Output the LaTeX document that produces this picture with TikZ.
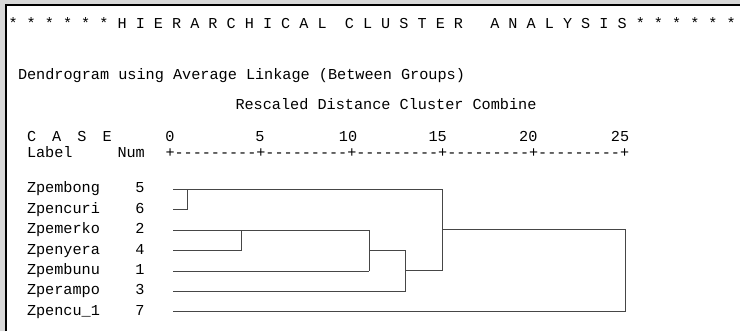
\documentclass[tikz,border=0pt]{standalone}
\usepackage{fontspec}
\newfontfamily\mono{Liberation Mono}
\definecolor{pagegray}{RGB}{216,216,216}
\definecolor{linegray}{RGB}{70,70,70}
\tikzset{
  txt/.style={inner sep=0pt, outer sep=0pt, font=\mono\fontsize{15.2bp}{18bp}\selectfont, text=black},
  wtxt/.style={txt, anchor=base west},
  ctxt/.style={txt, anchor=base},
  ln/.style={draw=linegray, line width=1bp},
}
\begin{document}
\begin{tikzpicture}[x=1bp, y=-1bp]
\useasboundingbox (0,0) rectangle (740,331);
% page frame
\fill[pagegray] (0,0) rectangle (740,331);
\fill[white] (6,5) rectangle (740,331);
\draw[black, line width=2bp] (6,331) -- (6,5) -- (740,5);

% headings
\node[wtxt, font=\mono\fontsize{15.15bp}{18bp}\selectfont] (title) at (8.5,28.3)
  {*~*~*~*~*~*~H~I~E~R~A~R~C~H~I~C~A~L~~C~L~U~S~T~E~R~~~A~N~A~L~Y~S~I~S~*~*~*~*~*~*};
\node[wtxt] (method) at (18,79.5) {Dendrogram using Average Linkage (Between Groups)};
\node[wtxt] (scale) at (235.5,109.5) {Rescaled Distance Cluster Combine};

% column heads
\node[wtxt] (case) at (27,141.7) {C~\hspace{7bp}A~\hspace{7bp}S~\hspace{7bp}E};
\node[wtxt] (label) at (27,157) {Label};
\node[wtxt] (num) at (117.5,157) {Num};

% scale numbers
\node[ctxt] (t0) at (170,141.7) {0};
\node[ctxt] (t5) at (260,141.7) {5};
\node[ctxt] (t10) at (348,141.7) {10};
\node[ctxt] (t15) at (437.7,141.7) {15};
\node[ctxt] (t20) at (528.3,141.7) {20};
\node[ctxt] (t25) at (620,141.7) {25};
\node[wtxt, font=\mono\fontsize{15.15bp}{18bp}\selectfont] (axis) at (165.5,157)
  {+---------+---------+---------+---------+---------+};

% case labels and numbers
\node[wtxt] (n5) at (27,192.5) {Zpembong};
\node[wtxt] (n6) at (27,213) {Zpencuri};
\node[wtxt] (n2) at (27,233.5) {Zpemerko};
\node[wtxt] (n4) at (27,254) {Zpenyera};
\node[wtxt] (n1) at (27,274.5) {Zpembunu};
\node[wtxt] (n3) at (27,294.5) {Zperampo};
\node[wtxt] (n7) at (27,315) {Zpencu\_1};
\node[ctxt] (c5) at (140,192.5) {5};
\node[ctxt] (c6) at (140,213) {6};
\node[ctxt] (c2) at (140,233.5) {2};
\node[ctxt] (c4) at (140,254) {4};
\node[ctxt] (c1) at (140,274.5) {1};
\node[ctxt] (c3) at (140,294.5) {3};
\node[ctxt] (c7) at (140,315) {7};

% leaf starts
\coordinate (s5) at (173,189);
\coordinate (s6) at (173,209.5);
\coordinate (s2) at (173,230);
\coordinate (s4) at (173,250.5);
\coordinate (s1) at (173,271);
\coordinate (s3) at (173,291);
\coordinate (s7) at (173,311.5);
% merge points
\coordinate (k56) at (187.3,189);
\coordinate (k24) at (241.7,230);
\coordinate (k241) at (369.3,271);
\coordinate (o241) at (369.3,250.3);
\coordinate (k2413) at (405.7,291);
\coordinate (o2413) at (405.7,270.7);
\coordinate (kall) at (442.3,270.7);
\coordinate (oall) at (442.3,229.7);
\coordinate (root) at (625,311.5);

% dendrogram
\draw[ln] (s6) -| (k56);
\draw[ln] (s5) -| (kall);
\draw[ln] (s4) -| (k24);
\draw[ln] (s2) -| (k241);
\draw[ln] (s1) -- (k241);
\draw[ln] (o241) -| (k2413);
\draw[ln] (s3) -- (k2413);
\draw[ln] (o2413) -- (kall);
\draw[ln] (oall) -| (root);
\draw[ln] (s7) -- (root);
\end{tikzpicture}
\end{document}
